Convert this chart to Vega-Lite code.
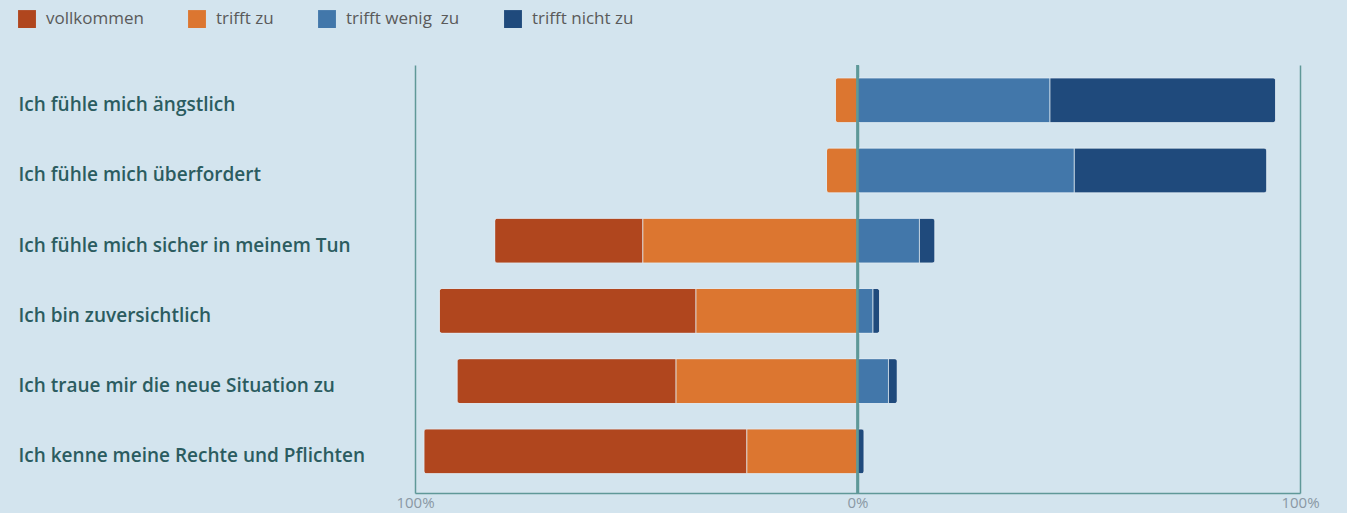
{
  "$schema": "https://vega.github.io/schema/vega-lite/v6.json",
  "width": 885,
  "height": 428,
  "autosize": {"type": "none"},
  "padding": {"left": 415, "top": 65, "right": 47, "bottom": 20},
  "background": "#d3e4ee",
  "config": {"view": {"stroke": null}, "font": "Open Sans"},
  "data": {
    "values": [
      {"q": "Ich fühle mich ängstlich", "k": "trifft zu", "v": -5},
      {"q": "Ich fühle mich ängstlich", "k": "trifft wenig  zu", "v": 43.5},
      {"q": "Ich fühle mich ängstlich", "k": "trifft nicht zu", "v": 51},
      {"q": "Ich fühle mich überfordert", "k": "trifft zu", "v": -7},
      {"q": "Ich fühle mich überfordert", "k": "trifft wenig  zu", "v": 49},
      {"q": "Ich fühle mich überfordert", "k": "trifft nicht zu", "v": 43.5},
      {"q": "Ich fühle mich sicher in meinem Tun", "k": "vollkommen", "v": -33.5},
      {"q": "Ich fühle mich sicher in meinem Tun", "k": "trifft zu", "v": -48.5},
      {"q": "Ich fühle mich sicher in meinem Tun", "k": "trifft wenig  zu", "v": 14},
      {"q": "Ich fühle mich sicher in meinem Tun", "k": "trifft nicht zu", "v": 3.5},
      {"q": "Ich bin zuversichtlich", "k": "vollkommen", "v": -58},
      {"q": "Ich bin zuversichtlich", "k": "trifft zu", "v": -36.5},
      {"q": "Ich bin zuversichtlich", "k": "trifft wenig  zu", "v": 3.5},
      {"q": "Ich bin zuversichtlich", "k": "trifft nicht zu", "v": 1.5},
      {"q": "Ich traue mir die neue Situation zu", "k": "vollkommen", "v": -49.5},
      {"q": "Ich traue mir die neue Situation zu", "k": "trifft zu", "v": -41},
      {"q": "Ich traue mir die neue Situation zu", "k": "trifft wenig  zu", "v": 7},
      {"q": "Ich traue mir die neue Situation zu", "k": "trifft nicht zu", "v": 2},
      {"q": "Ich kenne meine Rechte und Pflichten", "k": "vollkommen", "v": -73},
      {"q": "Ich kenne meine Rechte und Pflichten", "k": "trifft zu", "v": -25},
      {"q": "Ich kenne meine Rechte und Pflichten", "k": "trifft nicht zu", "v": 1.5}
    ]
  },
  "transform": [
    {"calculate": "datum.k == 'trifft zu' ? 0 : datum.k == 'vollkommen' ? 1 : datum.k == 'trifft wenig  zu' ? 2 : 3", "as": "o"}
  ],
  "layer": [
    {
      "mark": {"type": "bar", "cornerRadius": 3, "stroke": "#e3edf3", "strokeWidth": 1, "strokeOpacity": 0.7},
      "encoding": {
        "y": {
          "field": "q", "type": "nominal", "sort": null,
          "scale": {"paddingInner": 0.36, "paddingOuter": 0.228, "align": 0.4},
          "axis": {
            "title": null, "ticks": false, "tickSize": 0, "domain": false,
            "labelAlign": "left", "labelPadding": 397, "labelFontSize": 19,
            "labelFontWeight": 600, "labelColor": "#2b5c60", "labelLimit": 0, "labelOffset": 5
          }
        },
        "x": {
          "field": "v", "type": "quantitative", "stack": "zero",
          "scale": {"domain": [-100, 100]},
          "axis": {
            "title": null, "values": [-100, 0, 100], "grid": true, "gridColor": "#5f9898",
            "gridWidth": 1.5, "domain": true, "domainColor": "#5f9898", "domainWidth": 1.5,
            "ticks": false, "labelPadding": 2, "labelColor": "#8a98a4", "labelFontSize": 15,
            "labelFlush": false,
            "labelExpr": "abs(datum.value) + '%'"
          }
        },
        "color": {
          "field": "k", "type": "nominal",
          "scale": {
            "domain": ["vollkommen", "trifft zu", "trifft wenig  zu", "trifft nicht zu"],
            "range": ["#b0461e", "#dc7630", "#4277aa", "#1f4a7c"]
          },
          "legend": {
            "orient": "none", "legendX": -397, "legendY": -55, "direction": "horizontal",
            "title": null, "symbolType": "square", "symbolSize": 320, "symbolStrokeWidth": 0,
            "symbolOpacity": 1, "labelFontSize": 17, "labelColor": "#5a5a5a",
            "columnPadding": 44, "labelOffset": 10, "labelExpr": "replace(datum.label, '  ', '\u00a0 ')"
          }
        },
        "order": {"field": "o", "type": "quantitative"}
      }
    },
    {
      "mark": {"type": "rule", "color": "#5f9898", "strokeWidth": 1.2},
      "encoding": {"x": {"datum": 0}}
    }
  ]
}
